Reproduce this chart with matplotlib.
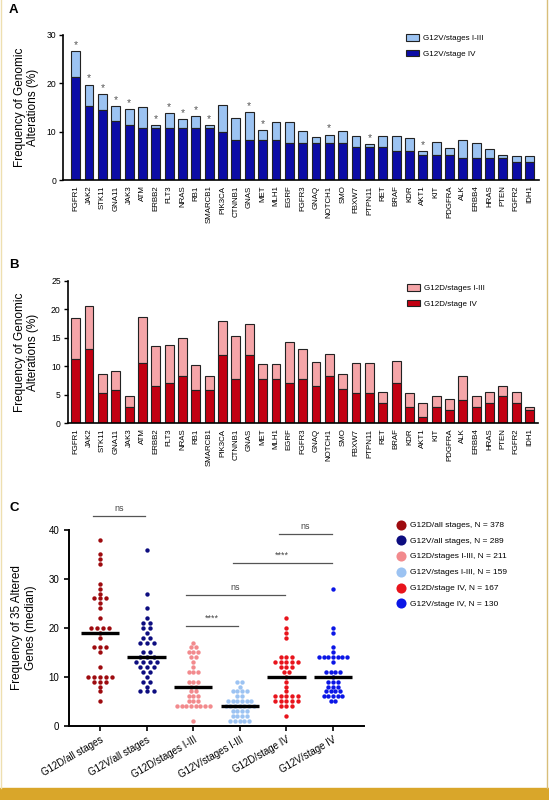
import numpy as np
import matplotlib
matplotlib.use('Agg')
import matplotlib.pyplot as plt
from matplotlib.lines import Line2D
from matplotlib.patches import Patch, Rectangle

plt.rcParams['font.family'] = ['Liberation Sans', 'DejaVu Sans']

GENES = ['FGFR1', 'JAK2', 'STK11', 'GNA11', 'JAK3', 'ATM', 'ERBB2', 'FLT3', 'NRAS', 'RB1',
         'SMARCB1', 'PIK3CA', 'CTNNB1', 'GNAS', 'MET', 'MLH1', 'EGRF', 'FGFR3', 'GNAQ',
         'NOTCH1', 'SMO', 'FBXW7', 'PTPN11', 'RET', 'BRAF', 'KDR', 'AKT1', 'KIT', 'PDGFRA',
         'ALK', 'ERBB4', 'HRAS', 'PTEN', 'FGFR2', 'IDH1']

# panel A: G12V, % (stage IV at the bottom, stages I-III stacked on top)
g12v_stage4 = [21.4, 15.3, 14.5, 12.2, 11.4, 10.7, 10.7, 10.7, 10.7, 10.7, 10.7, 9.9, 8.3, 8.3,
               8.3, 8.3, 7.6, 7.6, 7.6, 7.6, 7.6, 6.8, 6.8, 6.8, 6.0, 6.0, 5.2, 5.2, 5.2, 4.5,
               4.5, 4.5, 4.5, 3.7, 3.7]
g12v_stage13 = [5.2, 4.4, 3.2, 3.1, 3.2, 4.3, 0.6, 3.1, 1.9, 2.5, 0.6, 5.6, 4.5, 5.7, 2.0, 3.8,
                4.3, 2.5, 1.2, 1.8, 2.5, 2.4, 0.6, 2.4, 3.1, 2.6, 0.7, 2.6, 1.4, 3.8, 3.1, 1.9,
                0.6, 1.3, 1.3]
g12v_signif = ['FGFR1', 'JAK2', 'STK11', 'GNA11', 'JAK3', 'ERBB2', 'FLT3', 'NRAS', 'RB1',
               'SMARCB1', 'GNAS', 'MET', 'NOTCH1', 'PTPN11', 'AKT1']

# panel B: G12D, %
g12d_stage4 = [11.3, 13.0, 5.2, 5.8, 2.9, 10.6, 6.5, 7.1, 8.3, 5.8, 5.8, 11.9, 7.7, 11.9, 7.7,
               7.7, 7.1, 7.7, 6.5, 8.3, 5.9, 5.2, 5.2, 3.5, 7.1, 2.9, 1.1, 2.9, 2.3, 4.0, 2.9,
               3.5, 4.7, 3.5, 2.3]
g12d_stage13 = [7.1, 7.6, 3.4, 3.4, 1.9, 8.1, 7.1, 6.6, 6.6, 4.4, 2.4, 6.1, 7.6, 5.6, 2.7, 2.7,
                7.1, 5.3, 4.2, 3.8, 2.8, 5.3, 5.3, 1.9, 3.8, 2.4, 2.4, 1.9, 1.9, 4.3, 1.9, 1.9,
                1.9, 1.9, 0.5]

# panel C: number of altered genes per group (one point per gene)
GROUPS = ['G12D/all stages', 'G12V/all stages', 'G12D/stages I-III', 'G12V/stages I-III',
          'G12D/stage IV', 'G12V/stage IV']
GROUP_N = [378, 289, 211, 159, 167, 130]
g12d_all = [38, 35, 34, 33, 29, 28, 27, 26, 26, 26, 25, 24, 22, 20, 20, 20, 20, 19, 18, 16, 16,
            16, 15, 12, 10, 10, 10, 10, 10, 9, 9, 9, 8, 7, 5]
g12v_all = [36, 27, 24, 22, 21, 21, 20, 20, 19, 18, 18, 17, 17, 17, 15, 15, 14, 14, 14, 13, 13,
            13, 13, 12, 12, 12, 11, 11, 10, 9, 9, 8, 7, 7, 7]
g12d_early = [17, 16, 16, 15, 15, 15, 14, 14, 13, 12, 11, 11, 11, 9, 9, 9, 8, 8, 7, 7, 6, 6, 6,
              5, 5, 5, 4, 4, 4, 4, 4, 4, 4, 4, 1]
g12v_early = [9, 9, 8, 7, 7, 7, 7, 6, 6, 5, 5, 5, 5, 5, 5, 4, 4, 4, 4, 4, 4, 4, 3, 3, 3, 3, 2, 2,
              2, 2, 1, 1, 1, 1, 1]
g12d_late = [22, 20, 19, 18, 14, 14, 14, 13, 13, 13, 13, 13, 12, 12, 12, 11, 11, 10, 9, 8, 7, 6,
             6, 6, 6, 6, 5, 5, 5, 5, 5, 4, 4, 4, 2]
g12v_late = [28, 20, 19, 16, 15, 14, 14, 14, 14, 14, 14, 14, 13, 11, 11, 11, 11, 10, 9, 9, 9, 8,
             8, 8, 7, 7, 7, 7, 6, 6, 6, 6, 6, 5, 5]
GROUP_VALUES = [g12d_all, g12v_all, g12d_early, g12v_early, g12d_late, g12v_late]
# comparisons: (group a, group b, bracket height, label)
COMPARISONS = [(0, 1, 42.8, 'ns'), (2, 3, 20.3, '****'), (2, 4, 26.7, 'ns'),
               (3, 5, 33.2, '****'), (4, 5, 39.1, 'ns')]

GROUP_COLORS = ['#9E0B0F', '#0D0D80', '#F28A8D', '#9CC3F2', '#E8141C', '#0B16E6']
ROW_STEP = [0.13, 0.15, 0.1, 0.1, 0.12, 0.1]

W, H = 549, 800
fig = plt.figure(figsize=(W / 100, H / 100), dpi=100)


def fig_box(l, t, r, b):
    return [l / W, 1 - b / H, (r - l) / W, (b - t) / H]


def bar_panel(ax, low, high, c_low, c_high, lab_low, lab_high, ymax, yticks, stars=()):
    x = np.arange(len(GENES))
    low = np.array(low)
    high = np.array(high)
    ax.bar(x, high, 0.66, bottom=low, color=c_high, edgecolor='#222222', linewidth=0.8,
           label=lab_high)
    ax.bar(x, low, 0.66, color=c_low, edgecolor='#222222', linewidth=0.8, label=lab_low)
    for g in stars:
        i = GENES.index(g)
        ax.text(i, low[i] + high[i] + 0.3, '*', ha='center', va='bottom', fontsize=7.5,
                color='#555555')
    ax.set_ylim(0, ymax)
    ax.set_yticks(yticks)
    ax.set_xticks(x)
    ax.set_xticklabels(GENES, rotation=90, fontsize=5.7)
    ax.tick_params(axis='x', length=0, pad=4)
    ax.tick_params(axis='y', labelsize=6.2, length=3, width=1, pad=2)
    for s in ['top', 'right']:
        ax.spines[s].set_visible(False)
    for s in ['left', 'bottom']:
        ax.spines[s].set_linewidth(1.2)
    ax.set_ylabel('Frequency of Genomic\nAlterations (%)', fontsize=8.5, linespacing=1.15)


# panel A
axA = fig.add_axes(fig_box(63, 35, 539, 180))
bar_panel(axA, g12v_stage4, g12v_stage13, '#0C0CA6', '#9CC3F2', 'G12V/stage IV',
          'G12V/stages I-III', 30, [0, 10, 20, 30], g12v_signif)
axA.set_xlim((63 - 75.7) / 13.35, (539 - 75.7) / 13.35)
axA.yaxis.set_label_coords(-0.05, 0.5)
axA.legend(loc='upper left', bbox_to_anchor=(406 / W, 1 - 34 / H), bbox_transform=fig.transFigure,
           frameon=False, fontsize=5.8, handlelength=1.6, handleheight=0.9, labelspacing=0.95,
           borderpad=0, borderaxespad=0, handletextpad=0.5)

# panel B
axB = fig.add_axes(fig_box(67.7, 281, 538, 423))
bar_panel(axB, g12d_stage4, g12d_stage13, '#C20012', '#F5A5A8', 'G12D/stage IV',
          'G12D/stages I-III', 25, [0, 5, 10, 15, 20, 25])
axB.set_xlim((67.7 - 75.7) / 13.35, (538 - 75.7) / 13.35)
axB.yaxis.set_label_coords(-0.06, 0.5)
axB.legend(loc='upper left', bbox_to_anchor=(407 / W, 1 - 284 / H), bbox_transform=fig.transFigure,
           frameon=False, fontsize=5.8, handlelength=1.6, handleheight=0.9, labelspacing=0.95,
           borderpad=0, borderaxespad=0, handletextpad=0.5)


def row_offsets(vals, step):
    vals = np.asarray(vals, float)
    off = np.zeros(len(vals))
    for v in np.unique(vals):
        idx = np.where(vals == v)[0]
        off[idx] = (np.arange(len(idx)) - (len(idx) - 1) / 2) * step
    return off


# panel C
axC = fig.add_axes(fig_box(69, 530, 364, 725.7))
for i, vals in enumerate(GROUP_VALUES):
    xs = i + row_offsets(vals, ROW_STEP[i])
    axC.scatter(xs, vals, s=10, color=GROUP_COLORS[i], linewidths=0, zorder=2, clip_on=False,
                label=f'{GROUPS[i]}, N = {GROUP_N[i]}')
    med = np.median(vals)
    axC.plot([i - 0.41, i + 0.41], [med, med], color='black', lw=2.4, zorder=3,
             solid_capstyle='butt')

for a, b, yb, lab in COMPARISONS:
    axC.plot([a - 0.15, b - 0.03], [yb, yb], color='#555555', lw=0.9, clip_on=False)
    axC.text((a - 0.15 + b - 0.03) / 2, yb + 0.7, lab, ha='center', va='bottom',
             fontsize=6.5, color='#444444')

axC.set_xlim(-0.665, 5.665)
axC.set_ylim(0, 40)
axC.set_yticks([0, 10, 20, 30, 40])
axC.set_xticks(range(len(GROUPS)))
axC.set_xticklabels(GROUPS, rotation=30, ha='right', rotation_mode='anchor', fontsize=6.9)
axC.tick_params(axis='both', length=3.5, width=1.2, labelsize=7)
axC.tick_params(axis='x', pad=3)
for s in ['top', 'right']:
    axC.spines[s].set_visible(False)
for s in ['left', 'bottom']:
    axC.spines[s].set_linewidth(1.4)
axC.set_ylabel('Frequency of 35 Altered\nGenes (median)', fontsize=8.5, linespacing=1.15)
axC.yaxis.set_label_coords(-0.11, 0.5)
axC.legend(loc='upper left', bbox_to_anchor=(398 / W, 1 - 521 / H), bbox_transform=fig.transFigure,
           frameon=False, fontsize=6, markerscale=2.3, handlelength=0.8, labelspacing=0.95,
           borderpad=0, borderaxespad=0, handletextpad=0.6, scatterpoints=1)

# panel letters
for lab, top in [('A', 4), ('B', 259), ('C', 502)]:
    fig.text(9 / W, 1 - top / H, lab, fontsize=9.5, fontweight='bold', va='top', ha='left')

# page decoration: gold bar at the bottom, thin side rules
fig.add_artist(Rectangle((0, 0), 1, 12 / H, transform=fig.transFigure, color='#D9A62A',
                         zorder=0))
fig.add_artist(Line2D([547 / W, 547 / W], [12 / H, 1], transform=fig.transFigure,
                      color='#D8BE7A', lw=1))
fig.add_artist(Line2D([0.5 / W, 0.5 / W], [12 / H, 1], transform=fig.transFigure,
                      color='#EEDFB0', lw=1))

fig.savefig('out.png', dpi=100)
